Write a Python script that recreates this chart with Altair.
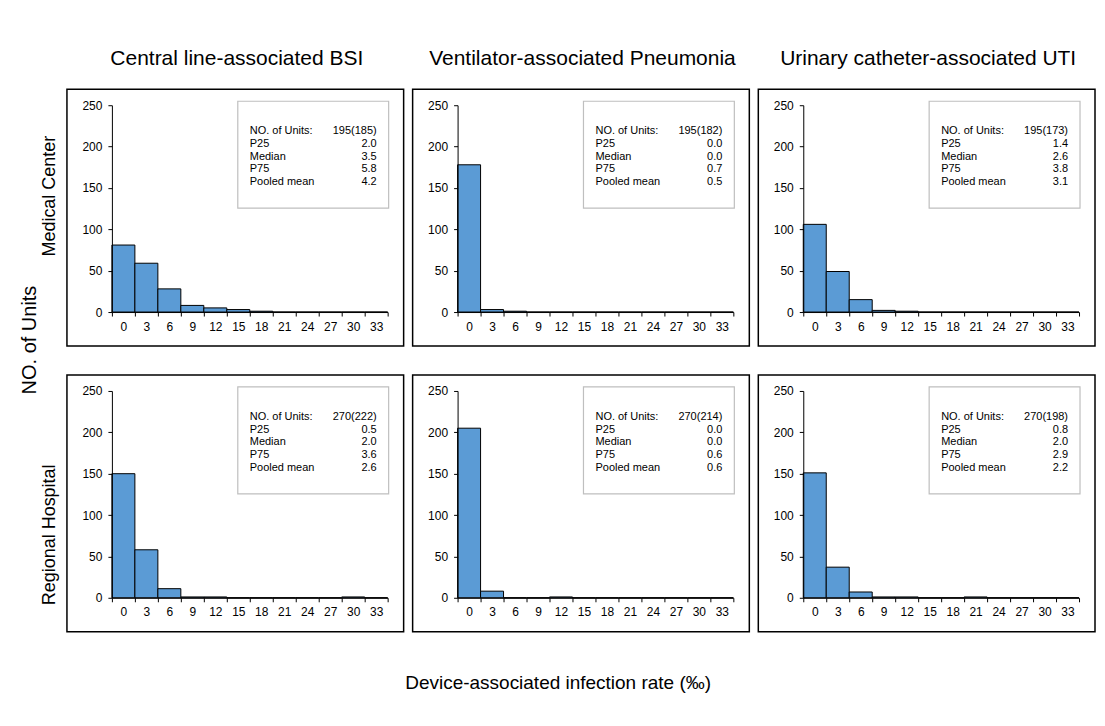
import altair as alt
import pandas as pd

# ---------------- data ----------------
hospitals = ["Medical Center", "Regional Hospital"]
infections = [
    "Central line-associated BSI",
    "Ventilator-associated Pneumonia",
    "Urinary catheter-associated UTI",
]
bin_starts = [0, 3, 6, 9, 12, 15, 18, 21, 24, 27, 30, 33]
bin_width = 3

# counts of units per rate bin
mc_clabsi = [81, 59, 28, 8, 5, 3, 1, 0, 0, 0, 0, 0]
mc_vap = [178, 3, 1, 0, 0, 0, 0, 0, 0, 0, 0, 0]
mc_cauti = [106, 49, 15, 2, 1, 0, 0, 0, 0, 0, 0, 0]
rh_clabsi = [150, 58, 11, 1, 1, 0, 0, 0, 0, 0, 1, 0]
rh_vap = [205, 8, 0, 0, 1, 0, 0, 0, 0, 0, 0, 0]
rh_cauti = [151, 37, 7, 1, 1, 0, 0, 1, 0, 0, 0, 0]

stat_names = ["NO. of Units:", "P25", "Median", "P75", "Pooled mean"]
mc_clabsi_stats = ["195(185)", "2.0", "3.5", "5.8", "4.2"]
mc_vap_stats = ["195(182)", "0.0", "0.0", "0.7", "0.5"]
mc_cauti_stats = ["195(173)", "1.4", "2.6", "3.8", "3.1"]
rh_clabsi_stats = ["270(222)", "0.5", "2.0", "3.6", "2.6"]
rh_vap_stats = ["270(214)", "0.0", "0.0", "0.6", "0.6"]
rh_cauti_stats = ["270(198)", "0.8", "2.0", "2.9", "2.2"]

y_ticks = [0, 50, 100, 150, 200, 250]
x_ticks = list(range(0, 37, 3))

panels = [
    (hospitals[0], infections[0], mc_clabsi, mc_clabsi_stats),
    (hospitals[0], infections[1], mc_vap, mc_vap_stats),
    (hospitals[0], infections[2], mc_cauti, mc_cauti_stats),
    (hospitals[1], infections[0], rh_clabsi, rh_clabsi_stats),
    (hospitals[1], infections[1], rh_vap, rh_vap_stats),
    (hospitals[1], infections[2], rh_cauti, rh_cauti_stats),
]

rows = []
for hosp, inf, counts, stats in panels:
    for s, c in zip(bin_starts, counts):
        rows.append(dict(kind="bar", hospital=hosp, infection=inf,
                         start=s, end=s + bin_width, count=c))
    rows.append(dict(kind="box", hospital=hosp, infection=inf,
                     names="\n".join(stat_names), values="\n".join(stats)))
df = pd.DataFrame(rows)

# ---------------- styling ----------------
F = "Liberation Sans"
W, H = 276, 207
half_bin_px = W / 36 * 1.5

is_box = alt.datum.kind == "box"

frame = alt.Chart().transform_filter(is_box).mark_rect(
    fill="white", stroke="black", strokeWidth=1.5
).encode(
    x=alt.value(-45), x2=alt.value(W + 16),
    y=alt.value(-16), y2=alt.value(H + 34),
)

col_titles = alt.Chart().transform_filter(
    is_box & (alt.datum.hospital == hospitals[0])
).mark_text(
    fontSize=21, font=F, color="black", align="center", baseline="middle"
).encode(x=alt.value(W / 2 - 13), y=alt.value(-46), text="infection:N")

row_label_top = alt.Chart().transform_filter(
    is_box & (alt.datum.hospital == hospitals[0])
    & (alt.datum.infection == infections[0])
).mark_text(
    fontSize=18, font=F, color="black", align="center", baseline="middle",
    angle=270
).encode(x=alt.value(-62), y=alt.value(91), text="hospital:N")

row_label_bottom = alt.Chart().transform_filter(
    is_box & (alt.datum.hospital == hospitals[1])
    & (alt.datum.infection == infections[0])
).mark_text(
    fontSize=18, font=F, color="black", align="center", baseline="middle",
    angle=270
).encode(x=alt.value(-62), y=alt.value(144), text="hospital:N")

bars = alt.Chart().transform_filter(alt.datum.kind == "bar").mark_rect(
    fill="#5B9BD5", stroke="black", strokeWidth=1
).encode(
    x=alt.X("start:Q", scale=alt.Scale(domain=[0, 36], nice=False),
            axis=alt.Axis(values=x_ticks, labelOffset=half_bin_px,
                          labelExpr="datum.value >= 36 ? '' : datum.label",
                          title=None, grid=False, labelFlush=False,
                          labelOverlap=False, tickSize=4, labelPadding=5,
                          labelAngle=0, zindex=1)),
    x2="end:Q",
    y=alt.Y("count:Q", scale=alt.Scale(domain=[0, 250], nice=False),
            axis=alt.Axis(values=y_ticks, title=None, grid=False,
                          tickSize=4, labelPadding=6, zindex=1)),
    y2=alt.datum(0),
)

legend_box = alt.Chart().transform_filter(is_box).mark_rect(
    fill="white", stroke="#BFBFBF", strokeWidth=1.2
).encode(
    x=alt.value(W - 150), x2=alt.value(W + 1),
    y=alt.value(-4), y2=alt.value(103),
)

legend_names = alt.Chart().transform_filter(is_box).mark_text(
    align="left", baseline="top", lineBreak="\n", lineHeight=12.7,
    fontSize=11, font=F, color="black"
).encode(x=alt.value(W - 138), y=alt.value(20), text="names:N")

legend_values = alt.Chart().transform_filter(is_box).mark_text(
    align="right", baseline="top", lineBreak="\n", lineHeight=12.7,
    fontSize=11, font=F, color="black"
).encode(x=alt.value(W - 11), y=alt.value(20), text="values:N")

cell = alt.layer(frame, col_titles, row_label_top, row_label_bottom, bars,
                 legend_box, legend_names, legend_values,
                 data=df).properties(width=W, height=H)

chart = cell.facet(
    row=alt.Row("hospital:N", sort=hospitals, title="NO. of Units",
                header=alt.Header(labels=False,
                                  titleFontSize=20, titleFont=F,
                                  titleFontWeight="normal",
                                  titleColor="black", titlePadding=-10)),
    column=alt.Column("infection:N", sort=infections, title=None,
                      header=alt.Header(labels=False)),
    spacing={"row": 25, "column": 5},
    align="each",
).resolve_axis(
    x="independent", y="independent"
).properties(
    title=alt.TitleParams(text="Device-associated infection rate (‰)",
                          orient="bottom", anchor="middle", fontSize=19,
                          font=F, fontWeight="normal", color="black",
                          offset=41),
    padding={"left": 11, "top": 39, "right": 0, "bottom": 5},
).configure_view(
    stroke="transparent"
).configure_axis(
    labelFont=F, labelFontSize=12, labelColor="black",
    domainColor="black", tickColor="black", domainWidth=1, tickWidth=1,
)

chart.save("out.html", embed_options={"renderer": "svg", "actions": False})
